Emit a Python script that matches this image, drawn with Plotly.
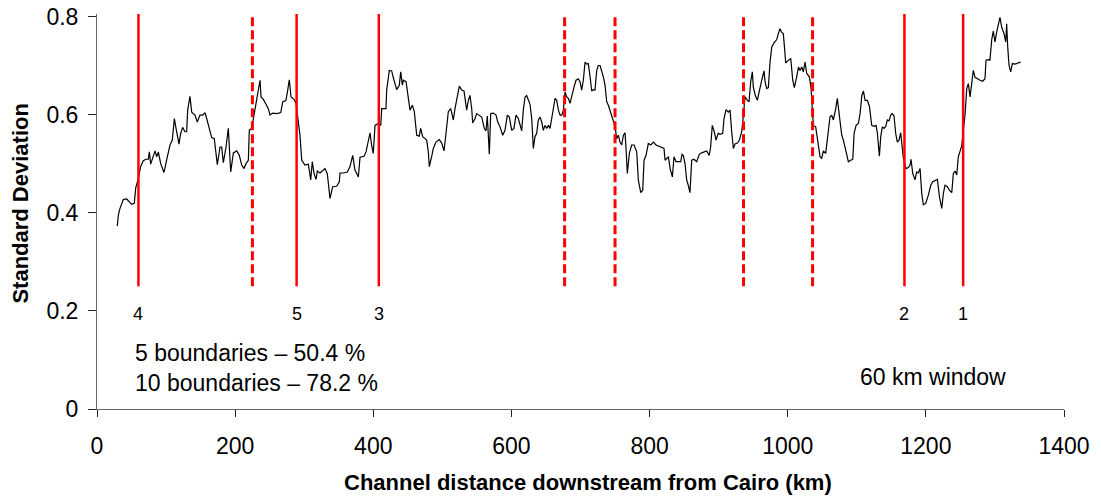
import plotly.graph_objects as go

# Channel distance (km) and standard deviation (60 km window)
km = [29.4, 30.9, 33.3, 38.1, 43.0, 50.2, 54.0, 56.0, 59.8, 63.2, 67.0, 71.0, 74.3, 75.8, 77.7, 81.6, 84.0, 86.4, 88.8, 92.2,
      97.0, 101.8, 105.7, 109.0, 112.0, 114.4, 118.7, 121.1, 124.0, 127.4, 129.8, 131.3, 134.6, 137.1, 141.9, 145.2, 149.1, 153.0, 156.4, 158.8,
      162.6, 166.0, 169.8, 174.2, 178.1, 180.5, 182.9, 185.3, 186.8, 190.1, 192.6, 193.6, 197.4, 202.3, 206.0, 209.5, 212.8, 215.7, 219.1, 220.5,
      224.0, 226.3, 228.8, 231.2, 233.6, 236.0, 237.5, 240.8, 244.7, 248.0, 250.5, 254.4, 260.2, 266.0, 268.9, 273.6, 276.1, 278.4, 280.9, 285.2,
      288.1, 290.0, 291.5, 293.9, 296.4, 301.1, 306.0, 309.4, 311.7, 314.2, 317.1, 319.0, 322.9, 326.8, 330.1, 333.5, 335.5, 337.3, 341.2, 347.0,
      350.8, 351.8, 356.6, 362.4, 366.3, 370.2, 373.5, 378.4, 380.8, 386.6, 389.5, 392.8, 395.3, 397.7, 400.0, 402.5, 407.3, 410.8, 412.2, 418.4,
      419.4, 423.2, 426.6, 430.0, 433.9, 437.7, 439.7, 442.1, 443.5, 447.4, 450.7, 453.2, 456.5, 459.4, 462.9, 466.6, 468.6, 471.5, 474.9, 477.3,
      479.7, 481.1, 484.6, 486.9, 490.8, 495.6, 499.1, 502.4, 505.3, 508.6, 512.1, 515.9, 518.3, 521.6, 524.6, 528.0, 531.3, 535.2, 537.6, 540.0,
      542.5, 543.9, 547.3, 549.7, 553.5, 557.0, 560.7, 563.2, 565.1, 568.0, 570.0, 573.8, 577.7, 580.2, 583.5, 587.4, 590.7, 594.1, 597.0, 600.4,
      603.7, 606.6, 610.0, 612.4, 614.9, 617.2, 619.7, 622.1, 624.5, 626.9, 629.4, 631.7, 634.1, 636.6, 638.9, 641.4, 643.8, 646.2, 648.6, 651.1,
      653.5, 655.9, 658.3, 660.7, 663.2, 665.6, 668.0, 670.5, 672.9, 675.2, 677.6, 680.1, 682.4, 684.8, 687.3, 690.6, 693.5, 696.8, 699.3, 701.7,
      704.1, 706.6, 709.0, 711.3, 713.8, 716.2, 718.6, 721.0, 723.5, 725.8, 728.3, 730.7, 733.1, 735.5, 738.0, 740.3, 742.7, 745.2, 747.6, 750.0,
      752.4, 754.8, 757.2, 759.7, 762.1, 764.5, 765.9, 767.8, 770.7, 774.1, 777.5, 781.4, 783.7, 787.2, 790.1, 792.0, 794.9, 798.2, 801.7, 805.5,
      809.4, 812.7, 817.6, 820.9, 822.4, 824.8, 827.3, 829.7, 833.0, 835.4, 838.3, 841.6, 845.1, 847.0, 848.8, 851.3, 853.7, 856.0, 858.5, 861.0,
      864.3, 868.2, 872.0, 875.4, 878.8, 882.6, 886.4, 888.4, 890.8, 893.7, 896.2, 899.5, 902.0, 905.9, 907.8, 910.7, 914.0, 916.5, 918.9, 921.3,
      923.7, 927.1, 930.0, 933.4, 935.8, 938.2, 941.6, 944.0, 946.4, 948.8, 950.2, 952.7, 956.0, 958.9, 962.4, 965.7, 967.2, 969.6, 972.0, 974.4,
      976.9, 980.2, 984.1, 986.4, 988.8, 991.2, 993.6, 995.1, 997.1, 1000.9, 1004.4, 1007.3, 1009.6, 1013.0, 1015.6, 1017.8, 1020.3, 1022.6, 1025.1, 1027.5,
      1031.3, 1033.7, 1035.6, 1037.1, 1040.5, 1043.4, 1046.8, 1049.2, 1051.6, 1055.0, 1058.0, 1061.2, 1063.7, 1066.1, 1069.5, 1071.8, 1074.7, 1078.2, 1080.6, 1084.4,
      1087.8, 1091.3, 1094.2, 1096.1, 1099.0, 1102.3, 1104.8, 1107.3, 1109.6, 1112.1, 1115.4, 1118.4, 1121.6, 1125.0, 1127.9, 1129.8, 1132.7, 1134.7, 1137.0, 1139.5,
      1141.9, 1144.2, 1146.7, 1149.1, 1151.4, 1153.9, 1156.3, 1158.7, 1161.1, 1163.6, 1165.9, 1167.4, 1171.3, 1174.6, 1177.1, 1178.5, 1181.0, 1184.3, 1186.7, 1189.1,
      1191.6, 1194.0, 1196.3, 1199.8, 1203.6, 1207.1, 1210.0, 1213.3, 1216.7, 1219.6, 1223.0, 1225.4, 1227.8, 1231.1, 1234.0, 1237.5, 1239.8, 1242.2, 1244.7, 1247.0,
      1249.5, 1251.9, 1254.2, 1256.7, 1259.2, 1261.5, 1264.0, 1266.4, 1268.7, 1271.2, 1274.5, 1278.4, 1282.3, 1285.6, 1287.1, 1290.4, 1292.8, 1295.3, 1297.6, 1300.1,
      1302.5, 1304.9, 1307.3, 1309.8, 1313.1, 1315.6, 1317.0, 1318.5, 1320.4, 1322.8, 1325.2, 1329.1, 1332.4, 1337.3]

sd = [0.373, 0.395, 0.409, 0.427, 0.428, 0.417, 0.419, 0.450, 0.470, 0.494, 0.506, 0.509, 0.509, 0.524, 0.499, 0.514, 0.526, 0.514, 0.524, 0.500,
      0.482, 0.514, 0.538, 0.548, 0.592, 0.572, 0.540, 0.561, 0.574, 0.565, 0.565, 0.609, 0.637, 0.605, 0.599, 0.585, 0.599, 0.599, 0.604, 0.592,
      0.572, 0.553, 0.551, 0.498, 0.534, 0.534, 0.502, 0.521, 0.534, 0.572, 0.494, 0.483, 0.522, 0.526, 0.517, 0.497, 0.490, 0.500, 0.507, 0.568,
      0.572, 0.592, 0.609, 0.633, 0.650, 0.670, 0.636, 0.631, 0.621, 0.612, 0.599, 0.603, 0.602, 0.604, 0.626, 0.629, 0.650, 0.671, 0.636, 0.631,
      0.623, 0.602, 0.576, 0.558, 0.507, 0.497, 0.499, 0.467, 0.504, 0.480, 0.468, 0.485, 0.481, 0.487, 0.490, 0.479, 0.453, 0.429, 0.453, 0.454,
      0.463, 0.481, 0.481, 0.483, 0.494, 0.517, 0.487, 0.473, 0.513, 0.515, 0.524, 0.548, 0.563, 0.536, 0.521, 0.578, 0.582, 0.578, 0.612, 0.612,
      0.650, 0.690, 0.689, 0.670, 0.651, 0.660, 0.687, 0.660, 0.670, 0.667, 0.631, 0.609, 0.619, 0.606, 0.558, 0.556, 0.572, 0.555, 0.551, 0.548,
      0.524, 0.494, 0.515, 0.531, 0.544, 0.549, 0.542, 0.526, 0.562, 0.606, 0.612, 0.589, 0.612, 0.633, 0.658, 0.650, 0.648, 0.609, 0.629, 0.639,
      0.612, 0.583, 0.592, 0.602, 0.599, 0.595, 0.572, 0.567, 0.597, 0.519, 0.602, 0.603, 0.599, 0.585, 0.575, 0.558, 0.568, 0.599, 0.595, 0.568,
      0.572, 0.599, 0.592, 0.578, 0.567, 0.609, 0.636, 0.639, 0.629, 0.621, 0.592, 0.531, 0.555, 0.562, 0.589, 0.595, 0.585, 0.568, 0.578, 0.572,
      0.578, 0.572, 0.592, 0.616, 0.633, 0.629, 0.609, 0.599, 0.599, 0.609, 0.646, 0.636, 0.633, 0.623, 0.639, 0.656, 0.670, 0.673, 0.667, 0.650,
      0.670, 0.707, 0.703, 0.704, 0.678, 0.648, 0.651, 0.650, 0.690, 0.700, 0.700, 0.690, 0.677, 0.660, 0.626, 0.619, 0.609, 0.595, 0.585, 0.576,
      0.551, 0.558, 0.544, 0.538, 0.558, 0.563, 0.531, 0.480, 0.521, 0.538, 0.538, 0.524, 0.467, 0.441, 0.446, 0.507, 0.517, 0.541, 0.538, 0.544,
      0.538, 0.536, 0.534, 0.531, 0.507, 0.511, 0.514, 0.490, 0.473, 0.514, 0.504, 0.504, 0.504, 0.519, 0.517, 0.500, 0.467, 0.456, 0.441, 0.507,
      0.509, 0.504, 0.519, 0.522, 0.524, 0.526, 0.517, 0.534, 0.578, 0.565, 0.548, 0.562, 0.560, 0.562, 0.592, 0.610, 0.605, 0.609, 0.565, 0.531,
      0.540, 0.542, 0.548, 0.565, 0.599, 0.636, 0.629, 0.626, 0.667, 0.687, 0.656, 0.641, 0.629, 0.650, 0.670, 0.689, 0.667, 0.653, 0.655, 0.707,
      0.738, 0.746, 0.753, 0.765, 0.775, 0.768, 0.765, 0.741, 0.705, 0.711, 0.714, 0.670, 0.655, 0.677, 0.697, 0.690, 0.697, 0.687, 0.707, 0.684,
      0.677, 0.656, 0.616, 0.578, 0.575, 0.548, 0.514, 0.511, 0.526, 0.521, 0.562, 0.595, 0.599, 0.589, 0.612, 0.633, 0.599, 0.558, 0.548, 0.521,
      0.504, 0.507, 0.509, 0.562, 0.578, 0.582, 0.602, 0.639, 0.648, 0.629, 0.629, 0.616, 0.578, 0.576, 0.578, 0.562, 0.515, 0.555, 0.575, 0.572,
      0.576, 0.589, 0.587, 0.599, 0.602, 0.597, 0.562, 0.544, 0.548, 0.563, 0.534, 0.511, 0.490, 0.492, 0.497, 0.509, 0.480, 0.467, 0.483, 0.481,
      0.490, 0.440, 0.416, 0.419, 0.436, 0.456, 0.463, 0.465, 0.468, 0.433, 0.409, 0.440, 0.456, 0.453, 0.446, 0.441, 0.480, 0.485, 0.477, 0.514,
      0.524, 0.536, 0.568, 0.599, 0.653, 0.663, 0.636, 0.670, 0.690, 0.676, 0.673, 0.670, 0.668, 0.673, 0.711, 0.712, 0.711, 0.752, 0.770, 0.748,
      0.768, 0.785, 0.798, 0.778, 0.765, 0.748, 0.785, 0.738, 0.700, 0.687, 0.704, 0.703, 0.705, 0.707]

# Boundaries (km)
solid_boundaries = [60, 289, 408, 1169, 1254]
solid_labels = ["4", "5", "3", "2", "1"]
dashed_boundaries = [225, 677, 750, 936, 1036]
boundary_range = [0.25, 0.805]

x_ticks = [0, 200, 400, 600, 800, 1000, 1200, 1400]
y_ticks = [0, 0.2, 0.4, 0.6, 0.8]
y_ticktext = ["0", "0.2", "0.4", "0.6", "0.8"]

FONT = "Liberation Sans, Arial, sans-serif"

def vlines(xs):
    X, Y = [], []
    for x in xs:
        X += [x, x, None]
        Y += [boundary_range[0], boundary_range[1], None]
    return X, Y

fig = go.Figure()
fig.add_trace(go.Scatter(x=km, y=sd, mode="lines", line=dict(color="black", width=1.2), hoverinfo="skip"))
sx, sy = vlines(solid_boundaries)
fig.add_trace(go.Scatter(x=sx, y=sy, mode="lines", line=dict(color="#FF0000", width=2.5), hoverinfo="skip"))
dx, dy = vlines(dashed_boundaries)
fig.add_trace(go.Scatter(x=dx, y=dy, mode="lines", line=dict(color="#FF0000", width=3, dash="9px,4px"), hoverinfo="skip"))

annotations = []
for xb, lab in zip(solid_boundaries, solid_labels):
    annotations.append(dict(x=xb, y=0.194, xref="x", yref="y", text=lab, showarrow=False,
                            font=dict(size=18, color="black", family=FONT), xanchor="center", yanchor="middle"))
annotations += [
    dict(x=52, y=0.115, xref="x", yref="y", text="5 boundaries \u2013 50.4 %", showarrow=False,
         font=dict(size=23, color="black", family=FONT), xanchor="left", yanchor="middle"),
    dict(x=52, y=0.052, xref="x", yref="y", text="10 boundaries \u2013 78.2 %", showarrow=False,
         font=dict(size=23, color="black", family=FONT), xanchor="left", yanchor="middle"),
    dict(x=1210, y=0.066, xref="x", yref="y", text="60 km window", showarrow=False,
         font=dict(size=23, color="black", family=FONT), xanchor="center", yanchor="middle"),
    dict(x=0.5078, y=-0.187, xref="paper", yref="paper", text="<b>Channel distance downstream from Cairo (km)</b>",
         showarrow=False, font=dict(size=22, color="black", family=FONT), xanchor="center", yanchor="middle"),
    dict(x=-0.0786, y=0.52, xref="paper", yref="paper", text="<b>Standard Deviation</b>", textangle=-90,
         showarrow=False, font=dict(size=22, color="black", family=FONT), xanchor="center", yanchor="middle"),
]

fig.update_layout(
    width=1101, height=502,
    margin=dict(l=97, r=37, t=14, b=93),
    paper_bgcolor="white", plot_bgcolor="white",
    showlegend=False,
    font=dict(family=FONT, size=22, color="black"),
    annotations=annotations,
    xaxis=dict(range=[0, 1400], tickvals=x_ticks, ticks="outside", ticklen=7, tickcolor="#222",
               showline=True, linecolor="#666", linewidth=1, showgrid=False, zeroline=False,
               automargin=False, ticklabelstandoff=9,
               tickfont=dict(size=23, family=FONT, color="black")),
    yaxis=dict(range=[0, 0.805], tickvals=y_ticks, ticktext=y_ticktext, ticks="outside", ticklen=8, tickcolor="#222",
               showline=True, linecolor="#666", linewidth=1, showgrid=False, zeroline=False,
               automargin=False, ticklabelstandoff=5,
               tickfont=dict(size=23, family=FONT, color="black")),
)

fig.write_html("out.html", config={"displayModeBar": False},
               post_script="document.body.style.margin='0';document.body.style.padding='0';")
